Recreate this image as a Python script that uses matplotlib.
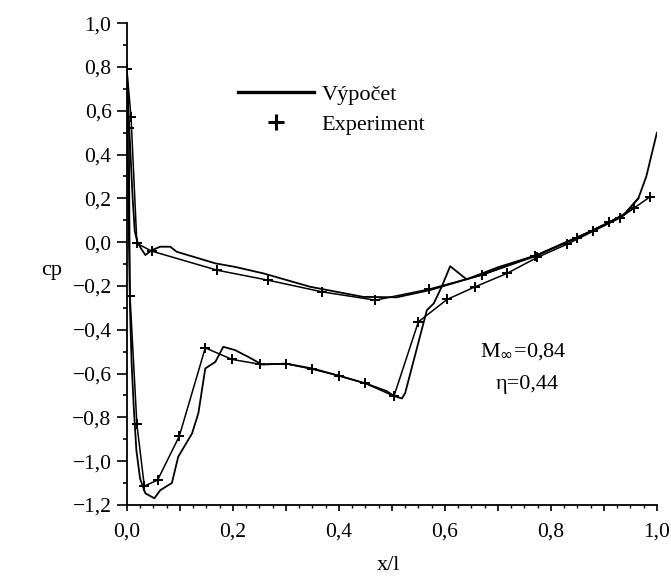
import matplotlib.pyplot as plt
from matplotlib.lines import Line2D
from matplotlib.ticker import MultipleLocator, FuncFormatter

plt.rcParams['font.family'] = ['Liberation Serif', 'DejaVu Serif']

# Calculation (Výpočet) - pressure side
calc_ps_x = [0.0, 0.003, 0.007, 0.011, 0.015, 0.02, 0.027, 0.035, 0.047, 0.063, 0.082,
             0.094, 0.13, 0.167, 0.204, 0.258, 0.346, 0.446, 0.509, 0.572, 0.667,
             0.774, 0.874, 0.937, 0.965, 0.98, 1.0]
calc_ps_y = [0.8, 0.6, 0.4, 0.2, 0.05, 0.0, -0.03, -0.059, -0.037, -0.021, -0.021,
             -0.044, -0.07, -0.097, -0.113, -0.143, -0.204, -0.250, -0.252, -0.219, -0.151,
             -0.059, 0.048, 0.123, 0.2, 0.3, 0.5]

# Calculation - suction side
calc_ss_x = [0.0, 0.002, 0.004, 0.006, 0.009, 0.013, 0.018, 0.025, 0.035, 0.052, 0.063,
             0.085, 0.097, 0.123, 0.135, 0.148, 0.167, 0.182, 0.204, 0.229, 0.255, 0.30,
             0.35, 0.40, 0.45, 0.49, 0.504, 0.519, 0.525, 0.566, 0.579, 0.594, 0.610, 0.641,
             0.70, 0.774, 0.874, 0.937, 0.965]
calc_ss_y = [0.8, 0.4, 0.0, -0.3, -0.55, -0.75, -0.95, -1.08, -1.147, -1.170, -1.133,
             -1.10, -0.98, -0.874, -0.781, -0.577, -0.547, -0.478, -0.493, -0.524, -0.559, -0.555,
             -0.577, -0.61, -0.645, -0.68, -0.703, -0.714, -0.69, -0.311, -0.280, -0.204, -0.110, -0.170,
             -0.115, -0.059, 0.048, 0.123, 0.2]

# Experiment - pressure side
exp_ps_x = [0.0, 0.008, 0.019, 0.047, 0.17, 0.267, 0.368, 0.469, 0.57, 0.67, 0.77,
            0.85, 0.91, 0.956, 0.987]
exp_ps_y = [0.79, 0.57, -0.006, -0.041, -0.128, -0.174, -0.227, -0.265, -0.215, -0.15, -0.065,
            0.02, 0.09, 0.154, 0.207]

# Experiment - suction side
exp_ss_x = [0.0, 0.004, 0.006, 0.019, 0.033, 0.058, 0.099, 0.148, 0.199, 0.252, 0.30,
            0.35, 0.40, 0.45, 0.504, 0.550, 0.604, 0.657, 0.717, 0.774, 0.83, 0.88, 0.93, 0.956]
exp_ss_y = [0.79, 0.52, -0.247, -0.832, -1.114, -1.087, -0.886, -0.483, -0.536, -0.558, -0.555,
            -0.58, -0.61, -0.645, -0.703, -0.364, -0.262, -0.204, -0.143, -0.070, -0.01, 0.05, 0.11, 0.154]

fig = plt.figure(figsize=(6.71, 5.79), dpi=100)
ax = fig.add_axes([0.189, 0.128, 0.79, 0.832])

ax.plot(calc_ps_x, calc_ps_y, color='black', lw=1.3)
ax.plot(calc_ss_x, calc_ss_y, color='black', lw=1.3)
ax.plot(exp_ps_x, exp_ps_y, color='black', lw=1.1, marker='+', ms=7, mew=1.4)
ax.plot(exp_ss_x, exp_ss_y, color='black', lw=1.1, marker='+', ms=7, mew=1.4)

ax.set_xlim(0, 1.0)
ax.set_ylim(-1.2, 1.0)
ax.spines['top'].set_visible(False)
ax.spines['right'].set_visible(False)
for s in ['left', 'bottom']:
    ax.spines[s].set_linewidth(1.3)

comma = FuncFormatter(lambda v, p: f"{v:.1f}".replace('.', ',').replace('-', '\u2212'))
ax.xaxis.set_major_locator(MultipleLocator(0.1))
ax.xaxis.set_minor_locator(MultipleLocator(0.025))
ax.xaxis.set_major_formatter(FuncFormatter(
    lambda v, p: f"{v:.1f}".replace('.', ',') if round(v * 10) % 2 == 0 else ""))
ax.yaxis.set_major_locator(MultipleLocator(0.2))
ax.yaxis.set_minor_locator(MultipleLocator(0.1))
ax.yaxis.set_major_formatter(comma)
ax.tick_params(axis='y', which='major', direction='out', length=7, width=1.2, labelsize=15.5, pad=4)
ax.tick_params(axis='y', which='minor', direction='out', length=3, width=1.2)
ax.tick_params(axis='x', which='major', direction='out', length=4, width=1.2, labelsize=15.5, pad=9)
ax.tick_params(axis='x', which='minor', direction='out', length=2, width=1.0)

fig.text(52 / 671, 1 - 270 / 579, "cp", fontsize=16, ha='center', va='center')
fig.text(388 / 671, 1 - 566 / 579, "x/l", fontsize=16, ha='center', va='center')

handles = [Line2D([], [], color='black', lw=2.4),
           Line2D([], [], color='black', lw=0, marker='+', ms=11, mew=2.2)]
fig.legend(handles, ["Výpočet", "Experiment"], loc='upper left',
           bbox_to_anchor=(238 / 671, 1 - 84 / 579), bbox_transform=fig.transFigure,
           frameon=False, fontsize=16, borderpad=0, borderaxespad=0,
           handlelength=3.4, handletextpad=0.35, labelspacing=0.45)

fig.text(523 / 671, 1 - 352 / 579, "M$_\\infty$=0,84", fontsize=16,
         ha='center', va='center')
fig.text(527 / 671, 1 - 384 / 579, "\u03b7=0,44", fontsize=16,
         ha='center', va='center')

fig.savefig("out.png", dpi=100)
